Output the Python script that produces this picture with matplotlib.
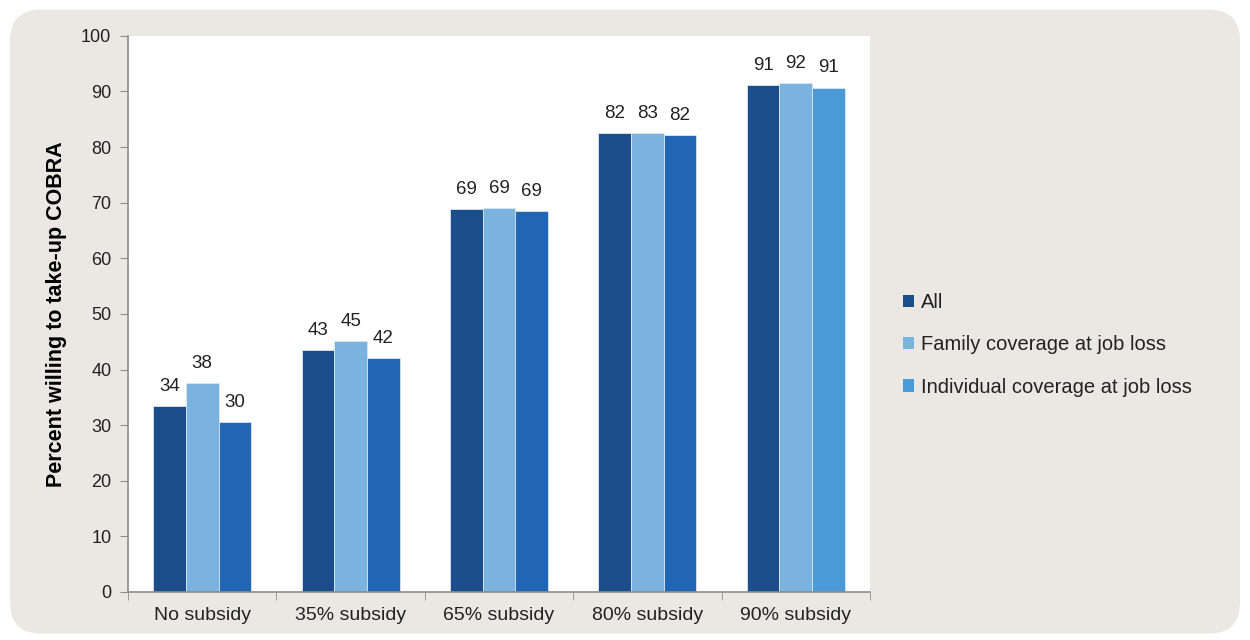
import matplotlib
matplotlib.use('Agg')
import matplotlib.pyplot as plt
import numpy as np
from matplotlib.patches import FancyBboxPatch, Patch

categories = ["No subsidy", "35% subsidy", "65% subsidy", "80% subsidy", "90% subsidy"]
series = ["All", "Family coverage at job loss", "Individual coverage at job loss"]
all_vals = [33.5, 43.5, 68.8, 82.5, 91.2]
family_vals = [37.5, 45.1, 69.0, 82.5, 91.5]
indiv_vals = [30.6, 42.1, 68.5, 82.2, 90.7]
all_labels = [34, 43, 69, 82, 91]
family_labels = [38, 45, 69, 83, 92]
indiv_labels = [30, 42, 69, 82, 91]

c_all = '#1a4d8a'
c_fam = '#7ab3e0'
c_ind = '#2166b4'
c_ind_last = '#4a9ad8'
bg = '#ebe8e4'

plt.rcParams['font.family'] = ['Liberation Sans', 'DejaVu Sans']

fig = plt.figure(figsize=(12.5, 6.4), dpi=100)
fig.patch.set_facecolor('white')
# rounded panel behind the chart
panel = FancyBboxPatch((0.008, 0.01), 0.984, 0.975, boxstyle="round,pad=0,rounding_size=0.025",
                       transform=fig.transFigure, facecolor=bg, edgecolor='none',
                       mutation_aspect=1250 / 640, zorder=-5)
fig.patches.append(panel)

ax = fig.add_axes([0.1024, 0.075, 0.5936, 0.869])
ax.set_facecolor('white')

x = np.arange(len(categories))
w = 0.22
ind_colors = [c_ind] * (len(categories) - 1) + [c_ind_last]
b1 = ax.bar(x - w, all_vals, w, color=c_all, edgecolor='#dce6f2', linewidth=0.6, zorder=2)
b2 = ax.bar(x, family_vals, w, color=c_fam, edgecolor='#dce6f2', linewidth=0.6, zorder=2)
b3 = ax.bar(x + w, indiv_vals, w, color=ind_colors, edgecolor='#dce6f2', linewidth=0.6, zorder=2)

for bars, labs in [(b1, all_labels), (b2, family_labels), (b3, indiv_labels)]:
    for b, lab in zip(bars, labs):
        ax.text(b.get_x() + b.get_width() / 2, b.get_height() + 2.0, str(lab),
                ha='center', va='bottom', fontsize=13.5, color='#222222')

ax.set_xlim(-0.5, len(categories) - 0.5)
ax.set_ylim(0, 100)
ax.set_yticks(range(0, 101, 10))
ax.set_xticks(x)
ax.set_xticklabels(categories, fontsize=14, color='#222222')
ax.set_xticks(np.arange(-0.5, len(categories), 1), minor=True)
ax.tick_params(axis='x', which='major', length=0, pad=11)
ax.tick_params(axis='x', which='minor', length=6, color='#8c8c8c', direction='out')
ax.tick_params(axis='y', length=6, color='#8c8c8c', labelsize=13, labelcolor='#222222', pad=6)
for s in ['top', 'right']:
    ax.spines[s].set_visible(False)
for s in ['left', 'bottom']:
    ax.spines[s].set_color('#8c8c8c')
    ax.spines[s].set_linewidth(1.2)
ax.set_ylabel("Percent willing to take-up COBRA", fontsize=15.5, fontweight='bold', labelpad=10)

handles = [Patch(facecolor=c_all), Patch(facecolor=c_fam), Patch(facecolor=c_ind_last)]
fig.legend(handles, series, loc='upper left', bbox_to_anchor=(0.708, 0.57), frameon=False,
           fontsize=14.5, handlelength=0.55, handleheight=0.55, handletextpad=0.35,
           labelspacing=1.15, labelcolor='#222222')

fig.savefig('out.png', dpi=100, facecolor=fig.get_facecolor())
